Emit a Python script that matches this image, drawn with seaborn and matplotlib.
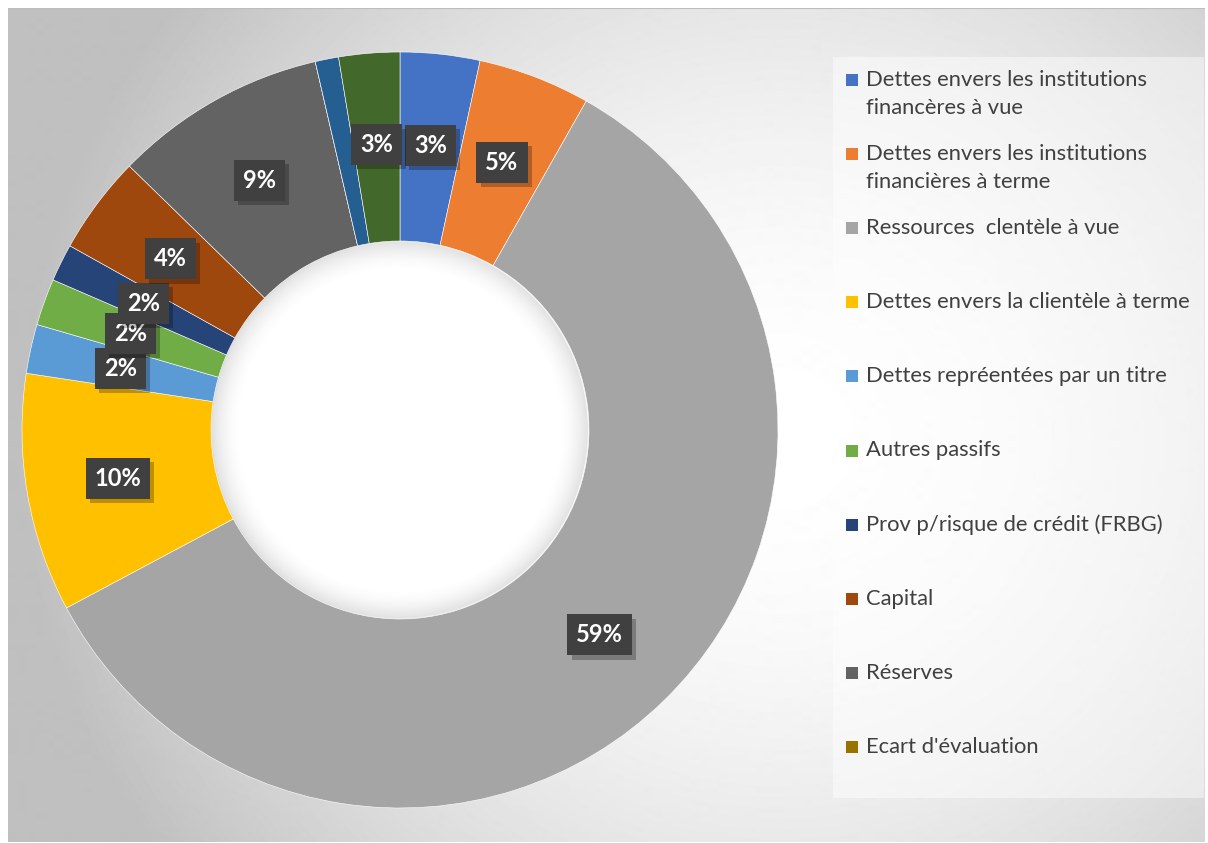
import numpy as np
import matplotlib
matplotlib.use("Agg")
import matplotlib.pyplot as plt
import matplotlib.patheffects as pe
from matplotlib.patches import Rectangle, Circle
import seaborn as sns

sns.set_theme(style="white")
plt.rcParams['font.family'] = ['Lato', 'DejaVu Sans']

# ---------------- data ----------------
categories = [
    "Dettes envers les institutions\nfinancères à vue",
    "Dettes envers les institutions\nfinancières à terme",
    "Ressources  clentèle à vue",
    "Dettes envers la clientèle à terme",
    "Dettes repréentées par un titre",
    "Autres passifs",
    "Prov p/risque de crédit (FRBG)",
    "Capital",
    "Réserves",
    "Ecart d'évaluation",
    "Série 11",
    "Série 12",
]
values = [3.4, 4.8, 59.0, 10.2, 2.1, 2.0, 1.6, 4.2, 9.1, 0.0, 1.0, 2.6]
labels_shown = [True, True, True, True, True, True, True, True, True, False, False, True]
colors = ["#4472C4", "#ED7D31", "#A5A5A5", "#FFC000", "#5B9BD5", "#70AD47",
          "#264478", "#9E480E", "#636363", "#997300", "#255E91", "#43682B"]
legend_count = 10

W, H = 1208, 843
fig = plt.figure(figsize=(W / 100, H / 100), dpi=100)
fig.patch.set_facecolor("white")

# ---------------- background gradient ----------------
bx0, by0, bx1, by1 = 8, 8, 1205, 843
bg = fig.add_axes([bx0 / W, 1 - by1 / H, (bx1 - bx0) / W, (by1 - by0) / H])
bg.axis("off")
yy, xx = np.mgrid[by0:by1, bx0:bx1].astype(float)
d = np.sqrt((xx - 780) ** 2 + ((yy - 440) * 1.05) ** 2) / 770.0
val = np.clip(1 - 0.255 * d ** 1.8, 0.75, 1.0)
bg.imshow(val, cmap="gray", vmin=0, vmax=1, aspect="auto", interpolation="bilinear")
bg.plot([0, bx1 - bx0], [0, 0], color="#BDBDBD", lw=1.5)
bg.set_xlim(0, bx1 - bx0)
bg.set_ylim(by1 - by0, 0)

# legend panel overlay
lx0, ly0, lx1, ly1 = 833, 57, 1204, 798
fig.patches.append(Rectangle((lx0 / W, 1 - ly1 / H), (lx1 - lx0) / W, (ly1 - ly0) / H,
                             transform=fig.transFigure, facecolor="white", alpha=0.45,
                             edgecolor="none", zorder=1))

# ---------------- donut ----------------
cx, cy, R = 400, 430, 378
ax = fig.add_axes([(cx - R) / W, 1 - (cy + R) / H, 2 * R / W, 2 * R / H])
ax.set_xlim(-1, 1)
ax.set_ylim(-1, 1)
ax.set_aspect("equal")
ax.axis("off")
ax.patch.set_alpha(0)

wedges, _ = ax.pie(values, colors=colors, startangle=90, counterclock=False, radius=1,
                   wedgeprops=dict(width=0.5, edgecolor="white", linewidth=0.4))

# hole with soft gradient
n = 400
gy, gx = np.mgrid[-0.5:0.5:n * 1j, -0.5:0.5:n * 1j]
r = np.sqrt(gx ** 2 + gy ** 2) / 0.5
hole = 1 - 0.12 * np.clip((r - 0.84) / 0.16, 0, 1) ** 1.8
im = ax.imshow(hole, cmap="gray", vmin=0, vmax=1, extent=[-0.5, 0.5, -0.5, 0.5],
               interpolation="bilinear", zorder=3)
clip = Circle((0, 0), 0.497, transform=ax.transData)
im.set_clip_path(clip)
ax.set_xlim(-1, 1)
ax.set_ylim(-1, 1)

# data labels
total = sum(values)
cum = 0.0
for v, show in zip(values, labels_shown):
    mid = cum + v / 2
    cum += v
    if not show:
        continue
    theta = np.deg2rad(90 - 360 * mid / total)
    rr = 0.757
    px, py = rr * np.cos(theta), rr * np.sin(theta)
    t = ax.text(px, py, f"{round(v / total * 100):d}%", ha="center", va="center",
                color="white", fontsize=17, fontweight="bold", zorder=5,
                bbox=dict(boxstyle="square,pad=0.38", facecolor="#404040",
                          edgecolor="none", linewidth=0))
    t.get_bbox_patch().set_path_effects([
        pe.SimplePatchShadow(offset=(3, -3), shadow_rgbFace="black", alpha=0.25),
        pe.Normal()])

# ---------------- legend ----------------
first_y = 80
step = 74.1
for i in range(legend_count):
    y = first_y + i * step
    fig.patches.append(Rectangle((846 / W, 1 - (y + 6) / H), 12 / W, 12 / H,
                                 transform=fig.transFigure, facecolor=colors[i],
                                 edgecolor="none", zorder=3))
    for j, line in enumerate(categories[i].split("\n")):
        fig.text(866 / W, 1 - (y + j * 28) / H, line, ha="left", va="center",
                 fontsize=15.8, color="#404040", zorder=4)

fig.savefig("out.png", dpi=100, facecolor=fig.get_facecolor())
